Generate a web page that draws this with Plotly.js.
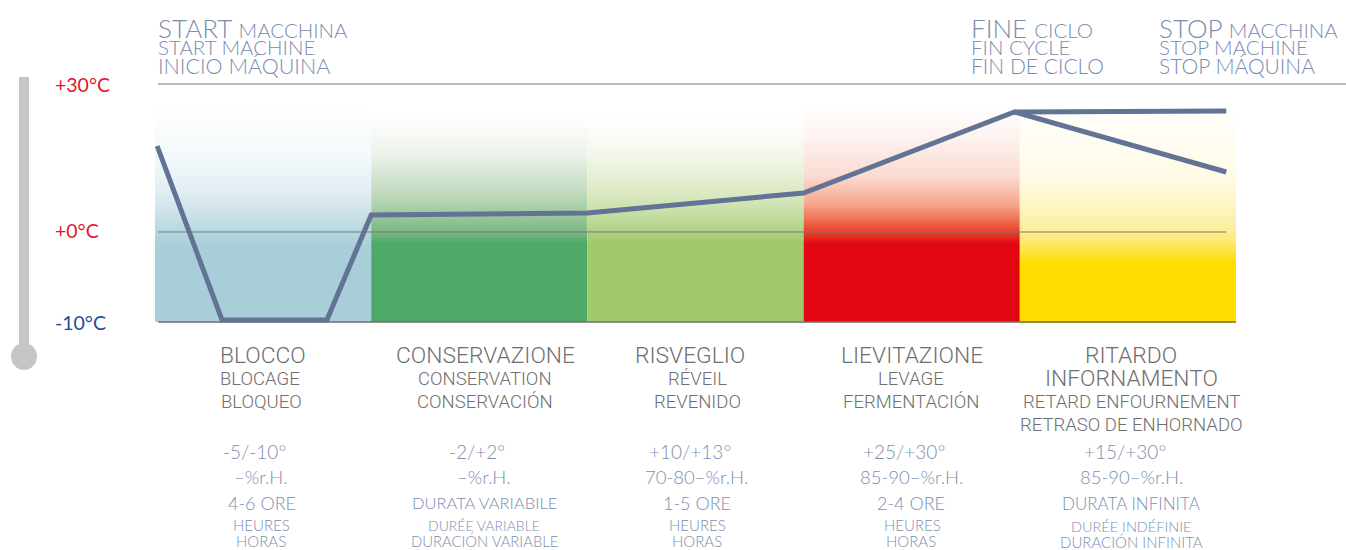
<!DOCTYPE html>
<html><head><meta charset="utf-8">
<script src="https://cdn.plot.ly/plotly-3.0.1.min.js"></script>
<style>html,body{margin:0;padding:0;background:#fff}#chart{width:1346px;height:550px}</style>
</head><body><div id="chart"></div>
<script>
// Drawing's own temperature scale (not linear below zero in the source)
const scaleZero = 0, scaleBottom = -18.37;
const tempLabels = ['+30°C', '+0°C', '-10°C'];
const tempLabelValues = [30, 0, -18.37];
const tempLabelShift = [1, 1, -1];
const tempLabelColors = ['#e5142a', '#e5142a', '#1f4b9c'];

// Temperature curve: x in phases (0..5), y on the drawing's scale
const curveX = [0.01, 0.31, 0.795, 1, 2, 3, 3.975, 4.955];
const curveY = [17.55, -17.96, -17.96, 3.47, 3.88, 7.96, 24.49, 24.69];
const branchX = [3.975, 4.955];
const branchY = [24.49, 12.24];

// Phase bands
const phaseNames = ['BLOCCO', 'CONSERVAZIONE', 'RISVEGLIO', 'LIEVITAZIONE', 'RITARDO'];
const bandColors = [
  [[0,'#a8cfd9'],[0.08,'#afd3dc'],[0.19,'#c2dde5'],[0.27,'#cfe3ea'],[0.42,'#e3eff4'],[0.64,'#f3f8fa'],[1,'#ffffff']],
  [[0,'#4fa968'],[0.03,'#5fae70'],[0.09,'#7ab985'],[0.2,'#95c497'],[0.39,'#bcd8b9'],[0.72,'#e9f1e8'],[1,'#fdfdfc']],
  [[0,'#9fc96b'],[0.2,'#c0db9c'],[0.39,'#d9e8c0'],[0.72,'#f1f6e8'],[1,'#fdfefc']],
  [[0,'#e30613'],[0.06,'#e5301f'],[0.107,'#e9492f'],[0.18,'#ef7152'],[0.29,'#f5a68e'],[0.5,'#fadcd3'],[0.79,'#fdf3f0'],[1,'#ffffff']],
  [[0,'#ffdd00'],[0.08,'#ffe337'],[0.17,'#feea7d'],[0.28,'#fdf0a9'],[0.38,'#fef4c0'],[0.58,'#fffbe4'],[0.85,'#fffdf4'],[1,'#fffff9']]
];
const bandSolidFrom = [-3.5, -2.2, -2.2, -2.5, -6.6];
const bandFadeTo = [25.6, 22.1, 22.1, 25.6, 23.6];
const bandTop = [27, 23.5, 23.5, 27, 25];
const bandBottom = [-18.37, -18.37, -18.37, -18.37, -18.6];

// Header texts: [html, left px, centre y px, size]
const small = s => '<span style="font-size:20.5px">' + s + '</span>';
const headerTexts = [
  ['START ' + small('MACCHINA'), 156.5, 28, 26],
  ['START MACHINE', 156.5, 47, 20.5],
  ['INICIO MÁQUINA', 156.5, 66, 21.5],
  ['FINE ' + small('CICLO'), 969.5, 28, 26],
  ['FIN CYCLE', 969.5, 47, 20.5],
  ['FIN DE CICLO', 969.5, 66, 21],
  ['STOP ' + small('MACCHINA'), 1158, 28, 26],
  ['STOP MACHINE', 1158, 47, 20.5],
  ['STOP MÁQUINA', 1158, 66, 21]
];
// Phase name texts (grey): [text, centre x px, centre y px, size]
const nameTexts = [
  ['BLOCCO', 263, 355, 22.8], ['BLOCAGE', 260, 379, 18.5], ['BLOQUEO', 261, 402, 18.5],
  ['CONSERVAZIONE', 485, 355, 22.8], ['CONSERVATION', 485, 379, 18.5], ['CONSERVACIÓN', 485, 402, 18.5],
  ['RISVEGLIO', 690, 355, 22.8], ['RÉVEIL', 697, 379, 18.5], ['REVENIDO', 697, 402, 18.5],
  ['LIEVITAZIONE', 912, 355, 22.8], ['LEVAGE', 911, 379, 18.5], ['FERMENTACIÓN', 911, 402, 18.5],
  ['RITARDO', 1131, 355, 22.8], ['INFORNAMENTO', 1131, 378, 22.8], ['RETARD ENFOURNEMENT', 1131, 402, 18.5], ['RETRASO DE ENHORNADO', 1131, 425, 18.5]
];
// Detail texts (blue-grey)
const detailTexts = [
  ['-5/-10°', 254, 451, 19], ['–%r.H.', 261, 477, 18.5], ['4-6 ORE', 262, 503, 18], ['HEURES', 261, 525, 15], ['HORAS', 261, 541, 15],
  ['-2/+2°', 477, 451, 19], ['–%r.H.', 484, 477, 18.5], ['DURATA VARIABILE', 484, 503, 16.5], ['DURÉE VARIABLE', 484, 525, 14], ['DURACIÓN VARIABLE', 484, 541, 14.8],
  ['+10/+13°', 690, 451, 19], ['70-80–%r.H.', 696, 477, 18.5], ['1-5 ORE', 697, 503, 18], ['HEURES', 697, 525, 15], ['HORAS', 697, 541, 15],
  ['+25/+30°', 904, 451, 19], ['85-90–%r.H.', 911, 477, 18.5], ['2-4 ORE', 911, 503, 18], ['HEURES', 912, 525, 15], ['HORAS', 911, 541, 15],
  ['+15/+30°', 1125, 451, 19], ['85-90–%r.H.', 1131, 477, 18.5], ['DURATA INFINITA', 1131, 503, 17], ['DURÉE INDÉFINIE', 1131, 526, 14.5], ['DURACIÓN INFINITA', 1131, 542, 15]
];

const M = {l:155, r:110, t:85, b:226};
const W = 1346, H = 550;
const px = x => (x - M.l) / (W - M.l - M.r);
const py = y => (H - M.b - y) / (H - M.t - M.b);

const traces = phaseNames.map((n, i) => ({
  type:'scatter', mode:'none', name:n, showlegend:false, hoverinfo:'skip',
  x:[i, i+1, i+1, i, i], y:[bandBottom[i], bandBottom[i], bandTop[i], bandTop[i], bandBottom[i]],
  fill:'toself',
  fillgradient:{type:'vertical', colorscale:bandColors[i], start:bandSolidFrom[i], stop:bandFadeTo[i]}
}));
const rule = {color:'#777777', width:1};
traces.push({type:'scatter', mode:'lines', x:[0.015, 4.955], y:[scaleZero, scaleZero], line:rule, showlegend:false, hoverinfo:'skip'});
traces.push({type:'scatter', mode:'lines', x:[0.015, 5], y:[scaleBottom, scaleBottom], line:{color:'#6f6f6f', width:1.5}, showlegend:false, hoverinfo:'skip'});
const curveStyle = {color:'#627396', width:5, shape:'linear'};
traces.push({type:'scatter', mode:'lines', name:'curve', x:curveX, y:curveY, line:curveStyle, showlegend:false});
traces.push({type:'scatter', mode:'lines', name:'branch', x:branchX, y:branchY, line:curveStyle, showlegend:false});

const ann = [];
const addText = (t, x, y, s, color, family, anchor, weight) => ann.push({
  text:t, x:px(x), y:py(y), xref:'paper', yref:'paper', xanchor:anchor, yanchor:'middle',
  showarrow:false, borderpad:0, font:{family, size:s, color, weight}
});
headerTexts.forEach(r => addText(r[0], r[1], r[2], r[3], '#7a8cb0', 'Lato', 'left', 300));
nameTexts.forEach(r => addText(r[0], r[1], r[2], r[3], '#6f6f6f', 'Roboto', 'center', 300));
detailTexts.forEach(r => addText(r[0], r[1], r[2], r[3], '#7c8eb2', 'Lato', 'center', 300));
tempLabels.forEach((t, i) => ann.push({
  text:t, x:px(53), y:tempLabelValues[i], yshift:tempLabelShift[i], xref:'paper', yref:'y', xanchor:'left', yanchor:'middle',
  showarrow:false, font:{family:'Lato', size:19.5, color:tempLabelColors[i], weight:400}
}));

const shapes = [
  {type:'line', xref:'paper', yref:'paper', x0:px(158), x1:px(1346), y0:py(84), y1:py(84), line:{color:'#a3a3a3', width:1.5}},
  {type:'rect', xref:'paper', yref:'paper', x0:px(19), x1:px(29), y0:py(350), y1:py(77), fillcolor:'#c6c6c6', line:{width:0}},
  {type:'circle', xref:'paper', yref:'paper', x0:px(11), x1:px(37), y0:py(370), y1:py(343), fillcolor:'#c6c6c6', line:{width:0}}
];

Plotly.newPlot('chart', traces, {
  width:W, height:H, margin:M, paper_bgcolor:'#fff', plot_bgcolor:'#fff', showlegend:false,
  xaxis:{range:[0,5], visible:false, fixedrange:true},
  yaxis:{range:[-18.78,30], visible:false, fixedrange:true},
  annotations:ann, shapes
}, {displayModeBar:false, staticPlot:true});
</script></body></html>
